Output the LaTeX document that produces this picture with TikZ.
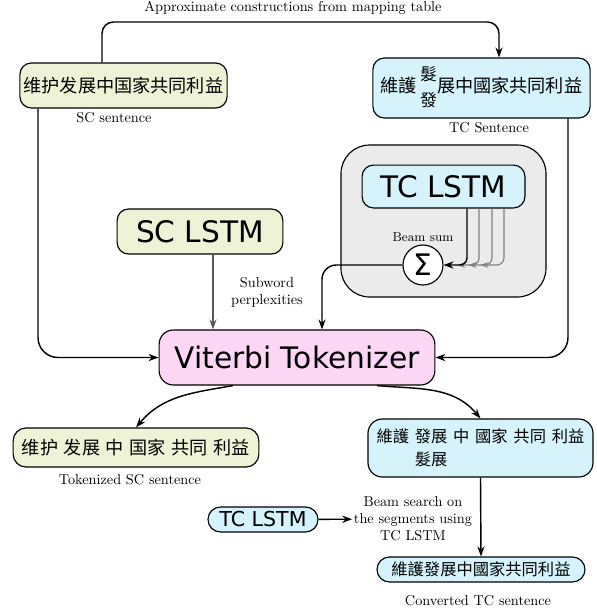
\documentclass[tikz,border=0pt]{standalone}
\usepackage{fontspec}
\setsansfont{DejaVu Sans}
\newfontfamily\cjksc{Noto Sans CJK SC}
\newfontfamily\cjktc{Noto Sans CJK TC}
\usetikzlibrary{arrows.meta, calc}
\definecolor{scfill}{HTML}{EEF2D6}
\definecolor{tcfill}{HTML}{D6F3FC}
\definecolor{vitfill}{HTML}{FBD6F5}
\definecolor{grpfill}{HTML}{EBEBEB}
\newcommand{\tgap}{\hspace{4pt}}
\newcommand{\twochar}[2]{{\fontsize{11.8}{18}\selectfont\begin{tabular}{@{}c@{}}#1\\#2\end{tabular}}}

\begin{document}
\begin{tikzpicture}[x=0.7pt, y=-0.7pt,
    box/.style={draw, thick, rounded corners=8pt, inner sep=2pt},
    scbox/.style={box, fill=scfill},
    tcbox/.style={box, fill=tcfill},
    bigsans/.style={font=\sffamily\huge},
    sctext/.style={font=\cjksc\fontsize{12.7}{15}\selectfont},
    tctext/.style={font=\cjktc\fontsize{11.4}{16}\selectfont},
    lbl/.style={inner sep=1pt, align=center},
    link/.style={-{Stealth[length=7pt, width=5pt]}, line width=1pt},
    beam/.style={-{Stealth[length=5.5pt, width=4pt]}, gray, thick}]
\useasboundingbox (0,0) rectangle (597,613);

% sentences
\node[scbox, sctext, minimum width=145pt, minimum height=31.5pt] (sc) at (123.5,85.5) {维护发展中国家共同利益};
\node[tcbox, font=\cjktc\fontsize{12.7}{15}\selectfont, minimum width=152pt, minimum height=42pt] (tc) at (481.5,88) {維護\,\twochar{髮}{發}展中國家共同利益};
\node[lbl] (scl) at (114,118) {SC sentence};
\node[lbl] (tcl) at (489,128) {TC Sentence};
\node[lbl] (topl) at (293,8) {Approximate constructions from mapping table};

% language models
\node[box, fill=grpfill, rounded corners=20pt, minimum width=143.5pt, minimum height=106.4pt] (grp) at (443.5,221) {};
\node[tcbox, bigsans, minimum width=114pt, minimum height=30pt] (tclstm) at (443.5,186.5) {TC LSTM};
\node[draw, thick, circle, fill=white, inner sep=0pt, minimum size=28pt, font=\sffamily\huge] (sum) at (423,265) {Σ};
\node[lbl, font=\small] (suml) at (423,237) {Beam sum};
\node[scbox, bigsans, minimum width=116pt, minimum height=31.5pt] (sclstm) at (200,231.5) {SC LSTM};
\node[lbl] (subl) at (267,292) {Subword\\perplexities};
\node[box, fill=vitfill, bigsans, rounded corners=10pt, minimum width=193pt, minimum height=38.5pt] (vit) at (297,357.5) {Viterbi Tokenizer};

% tokenized and converted
\node[scbox, sctext, rounded corners=9pt, minimum width=172pt, minimum height=27.3pt] (toksc) at (136,447.5) {维护\tgap 发展\tgap 中\tgap 国家\tgap 共同\tgap 利益};
\node[lbl] (tokscl) at (130,480) {Tokenized SC sentence};
\node[tcbox, tctext, align=left, rounded corners=10pt, minimum width=157.5pt, minimum height=40.6pt] (toktc) at (480.5,448) {維護\tgap 發展\tgap 中\tgap 國家\tgap 共同\tgap 利益\\\phantom{維護\tgap}髮展};
\node[tcbox, tctext, rounded corners=8.75pt, minimum width=145.6pt, minimum height=17.5pt] (conv) at (481,569.5) {維護發展中國家共同利益};
\node[lbl] (convl) at (478,601) {Converted TC sentence};
\node[tcbox, font=\sffamily\Large, rounded corners=8.75pt, minimum width=77pt, minimum height=17.5pt] (tclstm2) at (263,519.5) {TC LSTM};
\node[lbl] (beaml) at (413,519) {Beam search on\\the segments using\\TC LSTM};

% connectors
\coordinate (a1) at (102,22);
\coordinate (a2) at (499,22);
\draw[link, rounded corners=8pt] (sc.north -| a1) -- (a1) -- (a2) -- (tc.north -| a2);
\coordinate (l1) at (38,357.5);
\draw[link, rounded corners=14pt] (sc.south -| l1) -- (l1) -- (vit.west);
\coordinate (r1) at (568,357.5);
\draw[link, rounded corners=14pt] (tc.south -| r1) -- (r1) -- (vit.east);
\coordinate (c1) at (213,300);
\draw[link, gray!70!black, line width=0.8pt] (sclstm.south -| c1) -- (vit.north -| c1);
\coordinate (s1) at (322,265);
\draw[link, rounded corners=10pt] (sum.west) -- (s1) -- (vit.north -| s1);
\foreach \dx/\off in {60.5/37, 48.5/25, 35.5/14}
  \draw[beam, rounded corners=5pt] ($(tclstm.south)+(\dx,0)$) |- ($(sum.east)+(\off,0)$);
\draw[link, rounded corners=5pt] ($(tclstm.south)+(23.5,0)$) |- (sum.east);
\draw[link] ($(vit.south)+(-64,0)$) to[out=190, in=50] (toksc.north);
\draw[link] ($(vit.south)+(80,0)$) to[out=-5, in=130] (toktc.north);
\draw[link] (toktc.south) -- (conv.north);
\draw[link] (tclstm2) -- (beaml);
\end{tikzpicture}
\end{document}
